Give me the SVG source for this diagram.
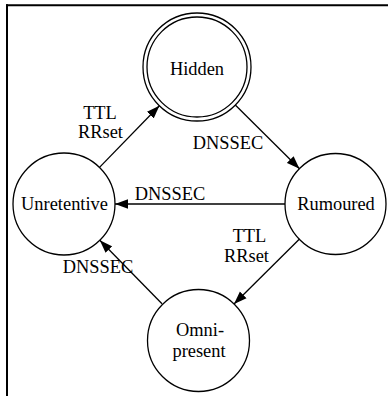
<svg xmlns="http://www.w3.org/2000/svg" width="388" height="396" viewBox="0 0 388 396">
<defs>
<style>
.node circle{fill:none;stroke:#000;stroke-width:1.3}
text{font-size:18.4px;fill:#000;text-anchor:middle}
.edge{stroke:#000;stroke-width:1.3;fill:none;marker-end:url(#arr)}
.frame{stroke:#000;stroke-width:2;fill:none}
</style>
<marker id="arr" viewBox="0 0 13 10" refX="13" refY="5" markerWidth="13" markerHeight="10" markerUnits="userSpaceOnUse" orient="auto">
<path d="M0,0.3 L13,5 L0,9.7 Z" fill="#000"/>
</marker>
</defs>
<rect width="388" height="396" fill="#fff"/>
<g id="frame">
<line class="frame" x1="6" y1="5.3" x2="388" y2="5.3"/>
<line class="frame" x1="7" y1="4.3" x2="7" y2="396"/>
</g>
<g font-family="Liberation Serif, DejaVu Serif, serif">
<g id="connectors">
<line class="edge" x1="99.5" y1="167.4" x2="159.4" y2="105.8"/>
<line class="edge" x1="235.3" y1="105" x2="299.5" y2="168.7"/>
<line class="edge" x1="285" y1="204" x2="115" y2="204"/>
<line class="edge" x1="299.5" y1="239" x2="234" y2="304"/>
<line class="edge" x1="162" y1="303.7" x2="99.8" y2="240.3"/>
<text x="100" y="118.5">TTL</text>
<text x="100.5" y="137.5">RRset</text>
<text x="228" y="149">DNSSEC</text>
<text x="170" y="199.5">DNSSEC</text>
<text x="249.5" y="241.5">TTL</text>
<text x="246.5" y="261.5">RRset</text>
<text x="98" y="273">DNSSEC</text>
</g>
<g id="hidden" class="node">
<circle cx="197" cy="67" r="54"/>
<circle cx="197" cy="67" r="50"/>
<text x="197" y="74.5">Hidden</text>
</g>
<g id="rumoured" class="node">
<circle cx="335.5" cy="204" r="50.5"/>
<text x="336" y="209.5">Rumoured</text>
</g>
<g id="unretentive" class="node">
<circle cx="64" cy="204" r="51"/>
<text x="64.5" y="209.5">Unretentive</text>
</g>
<g id="omnipresent" class="node">
<circle cx="198.5" cy="340.5" r="51"/>
<text x="200" y="336">Omni-</text>
<text x="199" y="357">present</text>
</g>
</g>
</svg>
